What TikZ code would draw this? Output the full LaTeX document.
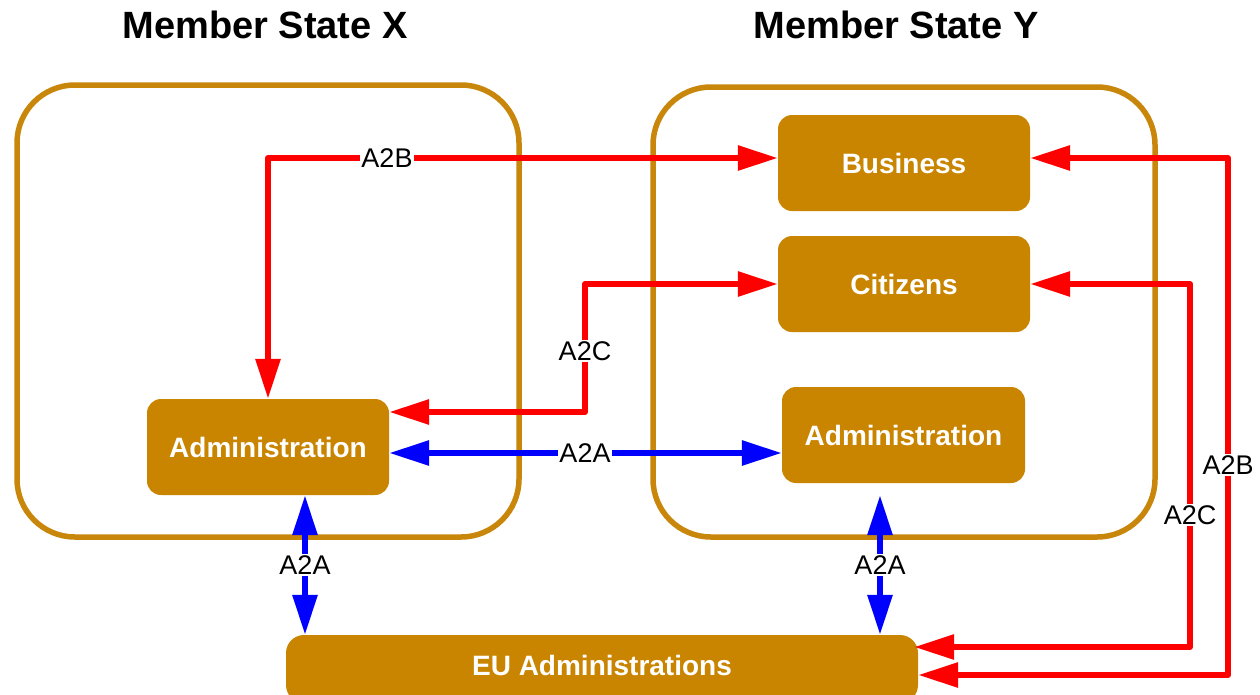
\documentclass[tikz,border=0pt]{standalone}
\usepackage{fontspec}
\setmainfont{Liberation Sans}
\usetikzlibrary{arrows.meta,calc}
\definecolor{gold}{RGB}{201,133,0}
\definecolor{goldline}{RGB}{200,134,10}
\begin{document}
\begin{tikzpicture}[x=1pt,y=-1pt,
  title/.style={font=\fontsize{38}{42}\selectfont\bfseries, inner sep=0pt},
  container/.style={draw=goldline, line width=5.5pt, rounded corners=58pt, inner sep=0pt},
  box/.style={fill=gold, rounded corners=14pt, text=white, font=\fontsize{28}{32}\selectfont\bfseries, minimum width=252pt, minimum height=96pt, inner sep=0pt},
  eubox/.style={fill=gold, rounded corners=18pt, text=white, font=\fontsize{28}{32}\selectfont\bfseries, minimum width=632pt, minimum height=68pt, inner sep=0pt},
  lbl/.style={fill=white, inner sep=1.5pt, font=\fontsize{27}{30}\selectfont},
  tip/.tip={Triangle[length=40pt,width=24pt]},
  redarr/.style={draw=red, line width=6pt, line join=round, {tip}-{tip}},
  bluearr/.style={draw=blue, line width=6pt, line join=round, {tip}-{tip}}]
\useasboundingbox (0,0) rectangle (1260,694);
\node[title] (tX) at (265,25) {Member State X};
\node[title] (tY) at (896,25) {Member State Y};
\node[container, minimum width=502pt, minimum height=452pt] (msX) at (268,311) {};
\node[container, minimum width=502pt, minimum height=450pt] (msY) at (904,312) {};
\node[box] (bus) at (904,163) {Business};
\node[box] (cit) at (904,284) {Citizens};
\node[box, minimum width=243pt] (admY) at (903.5,435) {Administration};
\node[box, minimum width=242pt] (admX) at (268,447) {Administration};
\node[eubox] (eu) at (602,669) {\raisebox{7pt}{EU Administrations}};
% helper coordinates
\coordinate (xC) at (585,0);
\coordinate (vL) at (305,0);
\coordinate (vR) at (880,0);
\coordinate (xB2) at (1228,0);
\coordinate (xC2) at (1190,0);
\coordinate (admXr) at ([yshift=35pt]admX.east);
\coordinate (admXb) at ([yshift=-6pt]admX.east);
\coordinate (aYb) at ([yshift=-12pt]admY.south);
\coordinate (euB) at ([yshift=-6pt]eu.east);
\coordinate (euC) at ([yshift=22pt,xshift=-4pt]eu.east);
% red A2B / A2C
\draw[redarr] (admX.north) |- ([yshift=5pt]bus.west);
\draw[redarr] (cit.west) -| (xC |- admXr) -- (admXr);
\draw[redarr] ([yshift=5pt]bus.east) -| (xB2 |- euB) -- (euB);
\draw[redarr] (cit.east) -| (xC2 |- euC) -- (euC);
% blue A2A
\draw[bluearr] (admXb) -- (admXb -| admY.west);
\draw[bluearr] (admX.south -| vL) -- (eu.north -| vL);
\draw[bluearr] (aYb -| vR) -- (eu.north -| vR);
% labels
\node[lbl] (l1) at (387,158) {A2B};
\node[lbl] (l2) at (585,351) {A2C};
\node[lbl] (l3) at (585,453) {A2A};
\node[lbl] (l4) at (305,565) {A2A};
\node[lbl] (l5) at (880,565) {A2A};
\node[lbl] (l6) at (1228,465) {A2B};
\node[lbl] (l7) at (1190,515) {A2C};
\end{tikzpicture}
\end{document}
